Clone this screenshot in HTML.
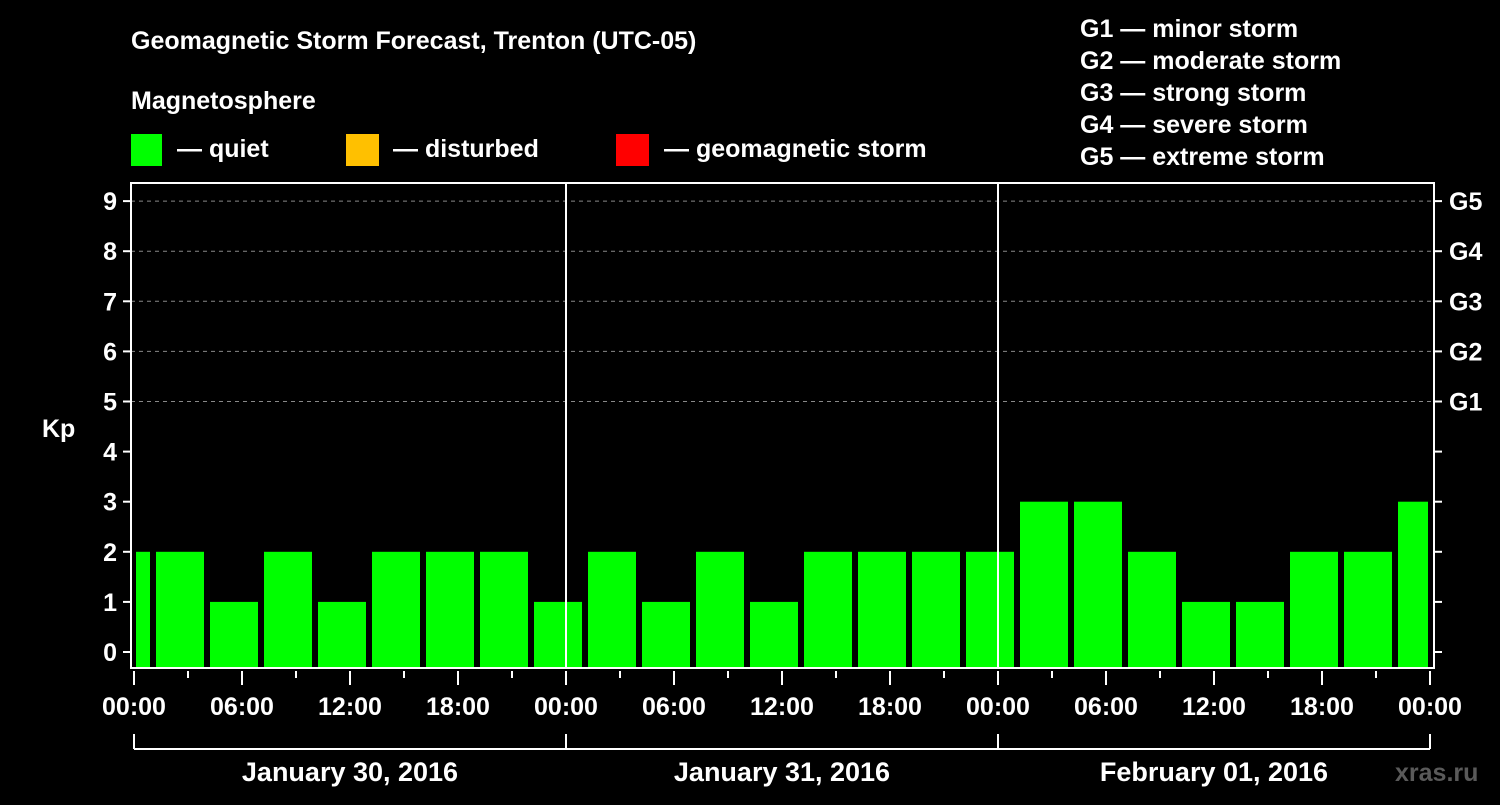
<!DOCTYPE html>
<html><head><meta charset="utf-8"><style>
body{margin:0;background:#000;width:1500px;height:800px;overflow:hidden;font-family:"Liberation Sans",Arial,sans-serif}
svg text{font-family:"Liberation Sans",Arial,sans-serif;font-weight:bold;fill:#fff}
</style></head><body>
<svg id="chart" width="1500" height="800" xmlns="http://www.w3.org/2000/svg">
<rect width="1500" height="800" fill="#000"/>
<text x="131" y="49" font-size="25">Geomagnetic Storm Forecast, Trenton (UTC-05)</text>
<text x="131" y="109" font-size="25">Magnetosphere</text>
<g>
<rect x="131" y="134" width="31" height="32" fill="#00ff00"/>
<text x="177" y="157" font-size="25">— quiet</text>
<rect x="346" y="134" width="33" height="32" fill="#ffc000"/>
<text x="393" y="157" font-size="25">— disturbed</text>
<rect x="616" y="134" width="33" height="32" fill="#ff0000"/>
<text x="664" y="157" font-size="25">— geomagnetic storm</text>
</g>
<g font-size="25">
<text x="1080" y="37">G1 — minor storm</text>
<text x="1080" y="69">G2 — moderate storm</text>
<text x="1080" y="101">G3 — strong storm</text>
<text x="1080" y="133">G4 — severe storm</text>
<text x="1080" y="165">G5 — extreme storm</text>
</g>
<text x="42" y="437" font-size="25">Kp</text>
<g id="grid"></g><g id="bars"></g><g id="axes"></g>
<text x="1395" y="781" font-size="25" fill="#555" style="fill:#5a5a5a">xras.ru</text>
</svg>
<script>
const kpValues=[2,2,1,2,1,2,2,2,1,2,1,2,1,2,2,2,2,3,3,2,1,1,2,2,3];
const barStartHours=[-2,1,4,7,10,13,16,19,22,25,28,31,34,37,40,43,46,49,52,55,58,61,64,67,70];
const yTicks=[0,1,2,3,4,5,6,7,8,9];
const gLabels=["G1","G2","G3","G4","G5"];
const xTickLabels=["00:00","06:00","12:00","18:00","00:00","06:00","12:00","18:00","00:00","06:00","12:00","18:00","00:00"];
const dateLabels=["January 30, 2016","January 31, 2016","February 01, 2016"];
const NS="http://www.w3.org/2000/svg";
const X0=134,PXH=18,Y0=652,PXK=50.1,BOT=668,TOP=183,L=131,R=1434;
const xs=h=>X0+h*PXH, ys=k=>Y0-k*PXK;
function mk(p,t,a){const e=document.createElementNS(NS,t);for(const k in a)e.setAttribute(k,a[k]);p.appendChild(e);return e;}
const grid=document.getElementById('grid'),bars=document.getElementById('bars'),axes=document.getElementById('axes');
for(let k=5;k<=9;k++){const l=mk(grid,'line',{x1:L,x2:R,y1:ys(k),y2:ys(k),stroke:'#888','stroke-dasharray':'4,4','stroke-width':1});

}
kpValues.forEach((v,i)=>{let x1=xs(barStartHours[i])+4,x2=xs(barStartHours[i]+3)-2;x1=Math.max(x1,136);x2=Math.min(x2,1428);
const r=mk(bars,'rect',{x:x1,y:ys(v),width:x2-x1,height:BOT-ys(v),fill:'#00ff00'});

});
[24,48].forEach(h=>{const l=mk(axes,'line',{x1:xs(h),x2:xs(h),y1:TOP,y2:BOT,stroke:'#fff','stroke-width':2});

});
const box=mk(axes,'rect',{x:L,y:TOP,width:R-L,height:BOT-TOP,fill:'none',stroke:'#fff','stroke-width':2});


yTicks.forEach(k=>{mk(axes,'line',{x1:L-8,x2:L,y1:ys(k),y2:ys(k),stroke:'#fff','stroke-width':2});
mk(axes,'line',{x1:R,x2:R+8,y1:ys(k),y2:ys(k),stroke:'#fff','stroke-width':2});
const t=mk(axes,'text',{x:L-14,y:ys(k)+9,'font-size':25,'text-anchor':'end'});t.textContent=k;

});
gLabels.forEach((g,i)=>{const t=mk(axes,'text',{x:1449,y:ys(5+i)+9,'font-size':25});t.textContent=g;

});
for(let h=0;h<=72;h+=3){const major=h%6===0;mk(axes,'line',{x1:xs(h),x2:xs(h),y1:671,y2:major?685:678,stroke:'#fff','stroke-width':2});}
xTickLabels.forEach((s,i)=>{const t=mk(axes,'text',{x:xs(i*6),y:715,'font-size':25,'text-anchor':'middle'});t.textContent=s;

});
mk(axes,'line',{x1:xs(0),x2:xs(72),y1:749,y2:749,stroke:'#fff','stroke-width':2});
[0,24,48,72].forEach(h=>mk(axes,'line',{x1:xs(h),x2:xs(h),y1:734,y2:749,stroke:'#fff','stroke-width':2}));
dateLabels.forEach((s,i)=>{const t=mk(axes,'text',{x:xs(i*24+12),y:781,'font-size':27,'text-anchor':'middle'});t.textContent=s;

});
</script>
</body></html>
